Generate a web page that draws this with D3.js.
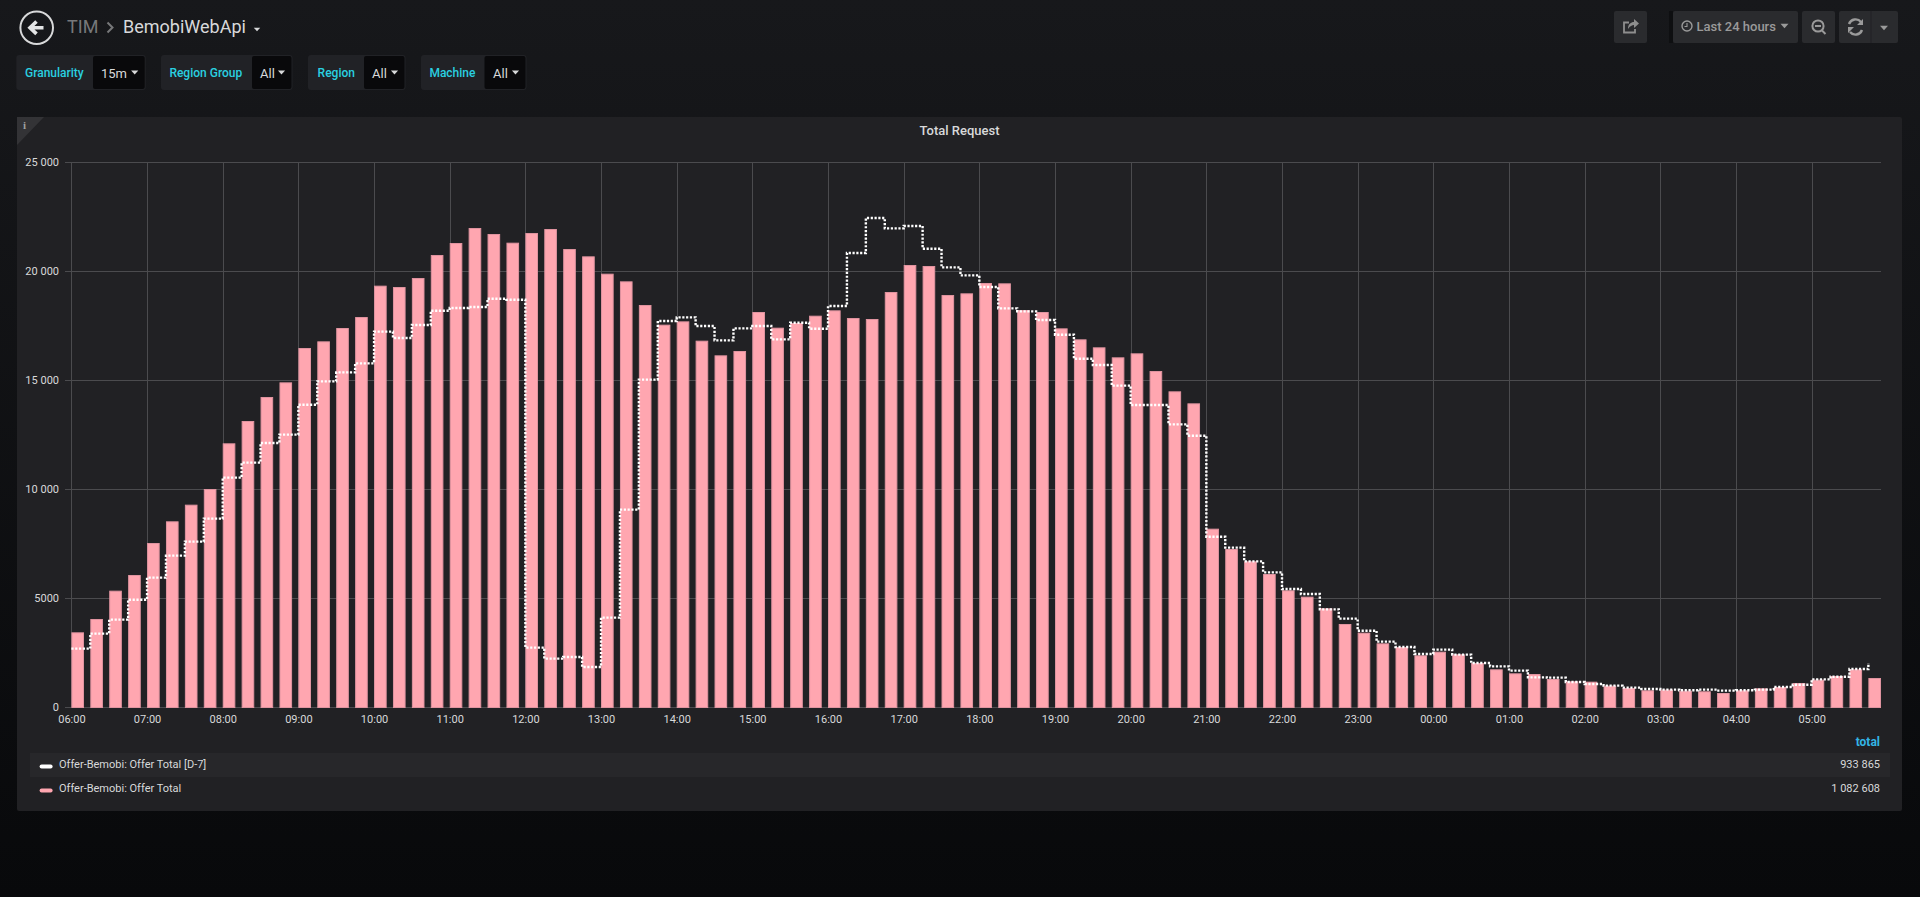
<!DOCTYPE html>
<html>
<head>
<meta charset="utf-8">
<script src="https://cdnjs.cloudflare.com/ajax/libs/d3/7.8.5/d3.min.js"></script>
<style>
html, body { margin: 0; padding: 0; height: 100%; overflow: hidden; background: #0b0c0e; }
svg { display: block; font-family: Roboto, sans-serif; }
.axis path { display: none; }
.axis line { stroke: #4b4b4e; stroke-width: 1; shape-rendering: crispEdges; }
.axis text { fill: #d8d9da; font-size: 11px; font-family: Roboto, sans-serif; }
</style>
</head>
<body>
<div id="chart"></div>
<script>
// offer total, one value per 15 minutes from 06:00
var offerTotal = [3425, 4037, 5336, 6055, 7523, 8517, 9281, 10000, 12095, 13119, 14220, 14892,
    16467, 16773, 17385, 17889, 19327, 19265, 19678, 20733, 21284, 21972, 21697, 21299,
    21742, 21926, 21008, 20672, 19877, 19525, 18440, 17538, 17690, 16804, 16131, 16330,
    18119, 17400, 17614, 17950, 18195, 17843, 17798, 19036, 20275, 20229, 18898, 18975,
    19449, 19434, 18210, 18119, 17369, 16865, 16498, 16039, 16223, 15412, 14480, 13929,
    8180, 7247, 6682, 6101, 5352, 5061, 4526, 3807, 3410, 2920, 2752, 2370,
    2538, 2416, 2018, 1728, 1544, 1514, 1284, 1177, 1162, 979, 872, 765,
    795, 749, 719, 642, 765, 856, 917, 1101, 1254, 1422, 1728, 1330]

// same series a week earlier
var offerTotalD7 = [2676, 3364, 4006, 4923, 5933, 6942, 7584, 8639, 10520, 11208, 12110, 12492,
    13868, 14939, 15351, 15764, 17217, 16926, 17522, 18180, 18302, 18348, 18730, 18684,
    2722, 2217, 2293, 1835, 4098, 9052, 15015, 17706, 17874, 17476, 16819, 17369,
    17476, 16865, 17629, 17354, 18394, 20825, 22430, 21956, 22063, 21024, 20168, 19800,
    19265, 18287, 18149, 17752, 17079, 15978, 15688, 14740, 13853, 13853, 12966, 12446,
    7813, 7309, 6682, 6177, 5413, 5183, 4480, 4052, 3501, 2997, 2752, 2431,
    2630, 2401, 2018, 1865, 1667, 1361, 1346, 1147, 1055, 979, 887, 826,
    795, 765, 795, 749, 765, 795, 917, 1024, 1269, 1391, 1743, 2018]

var yTicks = [0, 5000, 10000, 15000, 20000, 25000]
var yTickLabels = ["0", "5000", "10 000", "15 000", "20 000", "25 000"]
var legendNames = ["Offer-Bemobi: Offer Total [D-7]", "Offer-Bemobi: Offer Total"]
var legendTotals = ["933 865", "1 082 608"]
var legendColors = ["#ffffff", "#ffa6b0"]

var width = 1920
var height = 897
var plotLeft = 71.4
var plotRight = 1881
var plotTop = 162
var plotBottom = 707
var start = new Date(Date.UTC(2018, 0, 1, 6, 0))
var step = 15
var times = offerTotal.map(function(d, i) { return d3.utcMinute.offset(start, i * step) })

var x = d3.scaleUtc()
    .domain([start, d3.utcMinute.offset(start, 1435)])
    .range([plotLeft, plotRight])
var y = d3.scaleLinear().domain([0, 25000]).range([plotBottom, plotTop])

var svg = d3.select("#chart").append("svg").attr("width", width).attr("height", height)

var defs = svg.append("defs")
var grad = defs.append("linearGradient").attr("id", "pageBg").attr("x1", 0).attr("y1", 0).attr("x2", 0).attr("y2", 1)
grad.append("stop").attr("offset", 0).attr("stop-color", "#17181b")
grad.append("stop").attr("offset", 1).attr("stop-color", "#08090b")
svg.append("rect").attr("width", width).attr("height", height).attr("fill", "url(#pageBg)")

function label(g, px, py, str, size, color, weight, anchor) {
    return g.append("text").attr("x", px).attr("y", py)
        .attr("dy", "0.35em")
        .attr("text-anchor", anchor || "start")
        .style("font-size", size + "px")
        .style("font-weight", weight || 400)
        .attr("fill", color)
        .text(str)
}

function caret(g, cx, cy, w, color) {
    g.append("path")
        .attr("d", "M" + (cx - w) + "," + (cy - w * 0.55) + "h" + (2 * w) + "l" + (-w) + "," + (w * 1.1) + "z")
        .attr("fill", color)
}

// top navbar
function drawNavbar() {
    var g = svg.append("g")
    g.append("circle").attr("cx", 36.7).attr("cy", 27.7).attr("r", 16.3)
        .attr("fill", "none").attr("stroke", "#d8d9da").attr("stroke-width", 2)
    g.append("path").attr("d", "M43.5,27.7H31M36.5,21.5L30,27.7L36.5,33.9")
        .attr("fill", "none").attr("stroke", "#e4e5e6").attr("stroke-width", 3.6)
    label(g, 67, 27, "TIM", 18, "#77787a")
    g.append("path").attr("d", "M107.5,22.5L112.5,27.5L107.5,32.5")
        .attr("fill", "none").attr("stroke", "#77787a").attr("stroke-width", 2)
    label(g, 123, 27, "BemobiWebApi", 18, "#d8d9da")
    caret(g, 257, 29.5, 3.2, "#d8d9da")

    var buttons = [[1614, 33], [1673, 125], [1802, 33], [1839, 59]]
    buttons.forEach(function(b) {
        g.append("rect").attr("x", b[0]).attr("y", 11).attr("width", b[1]).attr("height", 32)
            .attr("rx", 2).attr("fill", "#2a2b2e")
    })
    g.append("rect").attr("x", 1669).attr("y", 11).attr("width", 4).attr("height", 32).attr("fill", "#0e0f11")
    g.append("line").attr("x1", 1871).attr("x2", 1871).attr("y1", 11).attr("y2", 43).attr("stroke", "#212124")

    // share icon
    g.append("path").attr("d", "M1635,29v3.5h-11v-10h5").attr("fill", "none").attr("stroke", "#8e8e8e").attr("stroke-width", 1.8)
    g.append("path").attr("d", "M1628,29c0,-5 3,-7 6,-7v-3l5,4.5l-5,4.5v-3c-2,0 -4,1 -6,4z").attr("fill", "#8e8e8e")
    // clock icon
    g.append("circle").attr("cx", 1687).attr("cy", 26).attr("r", 5).attr("fill", "none").attr("stroke", "#9a9a9a").attr("stroke-width", 1.4)
    g.append("path").attr("d", "M1687,23v3.5h-2.5").attr("fill", "none").attr("stroke", "#9a9a9a").attr("stroke-width", 1.1)
    label(g, 1696.5, 26.5, "Last 24 hours", 13, "#9a9a9a", 500)
    caret(g, 1784.5, 26, 4, "#9a9a9a")
    // zoom out icon
    g.append("circle").attr("cx", 1818).attr("cy", 26).attr("r", 5.6).attr("fill", "none").attr("stroke", "#9a9a9a").attr("stroke-width", 2)
    g.append("path").attr("d", "M1815,26h6M1822,30.5l3.5,3.5").attr("fill", "none").attr("stroke", "#9a9a9a").attr("stroke-width", 2)
    // refresh icon
    g.append("path").attr("d", "M1849,24a7,7 0 0 1 12,-2M1862,30a7,7 0 0 1 -12,2").attr("fill", "none").attr("stroke", "#9a9a9a").attr("stroke-width", 2.4)
    g.append("path").attr("d", "M1863,19v6h-6zM1848,33v-6h6z").attr("fill", "#9a9a9a")
    caret(g, 1884, 28, 4, "#9a9a9a")
}

// template variable row
var varButtons = [
    {name: "Granularity", value: "15m", x0: 16.3, split: 93, x1: 145.7, tx: 25, vx: 101},
    {name: "Region Group", value: "All", x0: 161, split: 252, x1: 292.5, tx: 169.4, vx: 260},
    {name: "Region", value: "All", x0: 308, split: 364, x1: 405.5, tx: 317.6, vx: 372},
    {name: "Machine", value: "All", x0: 421, split: 484.5, x1: 526.5, tx: 429.4, vx: 493}
]

function drawVariables() {
    var g = svg.append("g")
    varButtons.forEach(function(v) {
        g.append("rect").attr("x", v.x0).attr("y", 55).attr("width", v.x1 - v.x0).attr("height", 35)
            .attr("rx", 3).attr("fill", "#212226")
        g.append("rect").attr("x", v.split).attr("y", 56).attr("width", v.x1 - v.split - 1).attr("height", 33)
            .attr("rx", 2).attr("fill", "#09090b")
        label(g, v.tx, 72.5, v.name, 12, "#2ad0e0", 500)
        label(g, v.vx, 73, v.value, 13, "#d8d9da")
        caret(g, v.x1 - 11, 72.5, 3.6, "#d8d9da")
    })
}

function drawPanel() {
    var g = svg.append("g")
    g.append("rect").attr("x", 17).attr("y", 117).attr("width", 1885).attr("height", 694).attr("rx", 2).attr("fill", "#212124")
    g.append("path").attr("d", "M17,117h27L17,145z").attr("fill", "#333336")
    label(g, 24.5, 125, "i", 11, "#a0a0a0", 700, "middle").style("font-family", "'Liberation Serif', serif")
    label(g, 959.5, 130, "Total Request", 13, "#d8d9da", 500, "middle")
}

function drawChart() {
    var yAxis = d3.axisLeft(y)
        .tickValues(yTicks)
        .tickSize(plotRight - 65)
        .tickPadding(6)
        .tickFormat(function(d, i) { return yTickLabels[i] })
    svg.append("g").attr("class", "axis")
        .attr("transform", "translate(" + plotRight + ",0)")
        .call(yAxis)
        .selectAll("text").attr("x", -(plotRight - 59))

    var xAxis = d3.axisBottom(x)
        .ticks(d3.utcHour.every(1))
        .tickSize(plotBottom - plotTop)
        .tickPadding(8)
        .tickFormat(d3.utcFormat("%H:%M"))
    svg.append("g").attr("class", "axis")
        .attr("transform", "translate(0," + plotTop + ")")
        .call(xAxis)

    var barWidth = (x(times[1]) - x(times[0])) * 2 / 3

    svg.append("g").selectAll("rect")
        .data(offerTotal)
        .enter()
        .append("rect")
        .attr("x", function(d, i) { return x(times[i]) + 0.5 })
        .attr("y", function(d) { return y(d) + 0.5 })
        .attr("width", barWidth - 1)
        .attr("height", function(d) { return plotBottom - y(d) })
        .attr("fill", "#ffa6b0")
        .attr("stroke", "#e094a0")
        .attr("stroke-width", 1)

    var line = d3.line()
        .x(function(d, i) { return x(times[i]) })
        .y(function(d) { return y(d) })
        .curve(d3.curveStepAfter)

    svg.append("path")
        .datum(offerTotalD7)
        .attr("d", line)
        .attr("fill", "none")
        .attr("stroke", "#ffffff")
        .attr("stroke-width", 2.4)
        .attr("stroke-dasharray", "2.2 1.6")
}

function drawLegend() {
    var g = svg.append("g")
    label(g, 1880, 742, "total", 12, "#33b5e5", 700, "end")
    g.append("rect").attr("x", 30).attr("y", 753).attr("width", 1860).attr("height", 24).attr("fill", "#27272a")
    legendNames.forEach(function(name, i) {
        var cy = 764.5 + i * 24
        g.append("rect").attr("x", 39.6).attr("y", cy).attr("width", 13).attr("height", 4).attr("rx", 2).attr("fill", legendColors[i])
        label(g, 59, cy, name, 11, "#d8d9da")
        label(g, 1880, cy, legendTotals[i], 11, "#d8d9da", 400, "end")
    })
}

drawNavbar()
drawVariables()
drawPanel()
drawChart()
drawLegend()
</script>
</body>
</html>
